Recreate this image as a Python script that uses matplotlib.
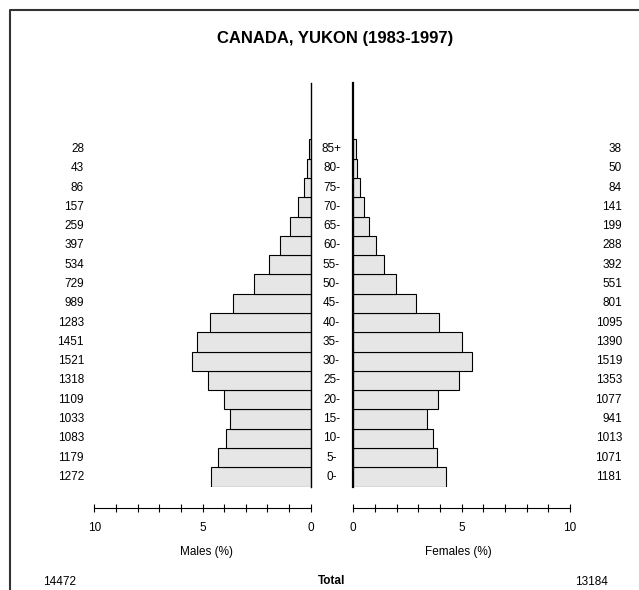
import matplotlib.pyplot as plt
from matplotlib.lines import Line2D
from matplotlib.transforms import blended_transform_factory

plt.rcParams['font.family'] = ['Liberation Sans', 'DejaVu Sans']

ages = ['0-', '5-', '10-', '15-', '20-', '25-', '30-', '35-', '40-', '45-',
        '50-', '55-', '60-', '65-', '70-', '75-', '80-', '85+']
males = [1272, 1179, 1083, 1033, 1109, 1318, 1521, 1451, 1283, 989,
         729, 534, 397, 259, 157, 86, 43, 28]
females = [1181, 1071, 1013, 941, 1077, 1353, 1519, 1390, 1095, 801,
           551, 392, 288, 199, 141, 84, 50, 38]
total_m = 14472
total_f = 13184

grand = total_m + total_f
male_pct = [v / grand * 100 for v in males]
female_pct = [v / grand * 100 for v in females]
rows = list(range(len(ages)))

W, H = 639, 590
fig = plt.figure(figsize=(W / 100, H / 100), dpi=100)

def fx(px):
    return px / W

def fy(py):
    return 1 - py / H

fs = 8.5
bottom = fy(486.6)
height = 403.6 / H
axm = fig.add_axes([fx(94.3), bottom, (310.7 - 94.3) / W, height])
axf = fig.add_axes([fx(353.3), bottom, (570 - 353.3) / W, height])

for ax, vals in ((axm, male_pct), (axf, female_pct)):
    ax.barh(rows, vals, height=1.0, color='#e6e6e6', edgecolor='black', linewidth=0.8)
    ax.set_ylim(-0.5, 20.42)
    ax.set_xlim(0, 10)
    ax.set_yticks([])
    ax.set_xticks([0, 5, 10])
    ax.set_xticks(range(11), minor=True)
    ax.tick_params(axis='x', which='both', direction='inout', length=6, width=0.8, pad=7, labelsize=fs)
    ax.spines['top'].set_visible(False)
    ax.spines['bottom'].set_position(('outward', 15.4))
    ax.spines['bottom'].set_linewidth(0.8)
    ax.patch.set_visible(False)

axm.invert_xaxis()
axm.spines['left'].set_visible(False)
axm.spines['right'].set_linewidth(1.0)
axf.spines['right'].set_visible(False)
axf.spines['left'].set_linewidth(1.6)

# row labels
tr = blended_transform_factory(fig.transFigure, axm.transData)
for i, a in enumerate(ages):
    fig.text(fx(84), i, str(males[i]), transform=tr, ha='right', va='center', fontsize=fs)
    fig.text(fx(331.5), i, a, transform=tr, ha='center', va='center', fontsize=fs)
    fig.text(fx(622), i, str(females[i]), transform=tr, ha='right', va='center', fontsize=fs)

fig.text(fx(335), fy(38), 'CANADA, YUKON (1983-1997)', ha='center', va='center',
         fontsize=12, fontweight='bold')
fig.text(fx(207), fy(552), 'Males (%)', ha='center', va='center', fontsize=fs)
fig.text(fx(458), fy(552), 'Females (%)', ha='center', va='center', fontsize=fs)
fig.text(fx(332), fy(581), 'Total', ha='center', va='center', fontsize=fs, fontweight='bold')
fig.text(fx(60), fy(582), str(total_m), ha='center', va='center', fontsize=fs)
fig.text(fx(591), fy(582), str(total_f), ha='center', va='center', fontsize=fs)

# outer frame (cropped on right and bottom)
fig.add_artist(Line2D([fx(9.5), fx(9.5), fx(650)], [fy(600), fy(9.7), fy(9.7)],
                      transform=fig.transFigure, color='#333333', linewidth=1.5))

fig.savefig('out.png', dpi=100)
